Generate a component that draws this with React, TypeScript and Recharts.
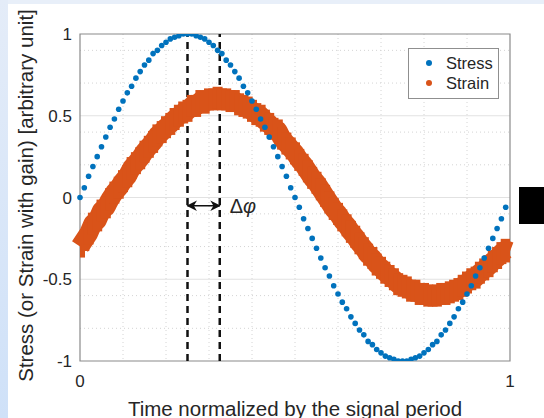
import React from "react";
import {
  ScatterChart,
  Scatter,
  XAxis,
  YAxis,
  CartesianGrid,
  ReferenceLine,
  ReferenceArea,
  Label,
} from "recharts";

// sampling instants (normalized time)
const time = [
  0, 0.01, 0.02, 0.03, 0.04, 0.05, 0.06, 0.07, 0.08, 0.09,
  0.1, 0.11, 0.12, 0.13, 0.14, 0.15, 0.16, 0.17, 0.18, 0.19,
  0.2, 0.21, 0.22, 0.23, 0.24, 0.25, 0.26, 0.27, 0.28, 0.29,
  0.3, 0.31, 0.32, 0.33, 0.34, 0.35, 0.36, 0.37, 0.38, 0.39,
  0.4, 0.41, 0.42, 0.43, 0.44, 0.45, 0.46, 0.47, 0.48, 0.49,
  0.5, 0.51, 0.52, 0.53, 0.54, 0.55, 0.56, 0.57, 0.58, 0.59,
  0.6, 0.61, 0.62, 0.63, 0.64, 0.65, 0.66, 0.67, 0.68, 0.69,
  0.7, 0.71, 0.72, 0.73, 0.74, 0.75, 0.76, 0.77, 0.78, 0.79,
  0.8, 0.81, 0.82, 0.83, 0.84, 0.85, 0.86, 0.87, 0.88, 0.89,
  0.9, 0.91, 0.92, 0.93, 0.94, 0.95, 0.96, 0.97, 0.98, 0.99, 1,
];

// stress (100 samples, last one at t = 0.99)
const stress = [
  0, 0.06, 0.13, 0.19, 0.25, 0.31, 0.37, 0.43, 0.48, 0.54,
  0.59, 0.64, 0.68, 0.73, 0.77, 0.81, 0.84, 0.88, 0.9, 0.93,
  0.95, 0.97, 0.98, 0.99, 1, 1, 1, 0.99, 0.98, 0.97,
  0.95, 0.93, 0.9, 0.88, 0.84, 0.81, 0.77, 0.73, 0.68, 0.64,
  0.59, 0.54, 0.48, 0.43, 0.37, 0.31, 0.25, 0.19, 0.13, 0.06,
  0, -0.06, -0.13, -0.19, -0.25, -0.31, -0.37, -0.43, -0.48, -0.54,
  -0.59, -0.64, -0.68, -0.73, -0.77, -0.81, -0.84, -0.88, -0.9, -0.93,
  -0.95, -0.97, -0.98, -0.99, -1, -1, -1, -0.99, -0.98, -0.97,
  -0.95, -0.93, -0.9, -0.88, -0.84, -0.81, -0.77, -0.73, -0.68, -0.64,
  -0.59, -0.54, -0.48, -0.43, -0.37, -0.31, -0.25, -0.19, -0.13, -0.06,
];

// strain (with gain)
const strain = [
  -0.3, -0.26, -0.22, -0.16, -0.14, -0.08, -0.06, -0.01, 0.03, 0.06,
  0.1, 0.13, 0.18, 0.21, 0.24, 0.28, 0.31, 0.34, 0.38, 0.4,
  0.43, 0.45, 0.48, 0.5, 0.52, 0.53, 0.56, 0.56, 0.59, 0.58,
  0.6, 0.6, 0.61, 0.6, 0.6, 0.59, 0.59, 0.57, 0.56, 0.55,
  0.53, 0.51, 0.5, 0.47, 0.45, 0.42, 0.41, 0.36, 0.33, 0.3,
  0.27, 0.23, 0.2, 0.16, 0.12, 0.09, 0.05, 0.01, -0.03, -0.07,
  -0.1, -0.14, -0.17, -0.21, -0.24, -0.28, -0.31, -0.35, -0.37, -0.41,
  -0.43, -0.46, -0.48, -0.5, -0.53, -0.54, -0.55, -0.57, -0.57, -0.59,
  -0.59, -0.6, -0.6, -0.6, -0.59, -0.59, -0.58, -0.57, -0.56, -0.54,
  -0.52, -0.5, -0.49, -0.46, -0.44, -0.42, -0.39, -0.37, -0.34, -0.32, -0.33,
];

const yTicks = [-1, -0.5, 0, 0.5, 1];
const xTicks = [0, 1];
const majorY = [-0.5, 0, 0.5];
const minorY = [-0.9, -0.8, -0.7, -0.6, -0.4, -0.3, -0.2, -0.1, 0.1, 0.2, 0.3, 0.4, 0.6, 0.7, 0.8, 0.9];
const minorX = [0.1, 0.2, 0.3, 0.4, 0.5, 0.6, 0.7, 0.8, 0.9];

// phase markers
const stressPeak = 0.25;
const strainPeak = 0.325;
const arrowLevel = -0.05;

const stressData = stress.map((v, i) => ({ t: time[i], v }));
const strainData = strain.map((v, i) => ({ t: time[i], v }));

const BLUE = "#0072BD";
const ORANGE = "#D95319";
const FONT = "'Liberation Sans', Arial, sans-serif";

const App: React.FC = () => {
  return (
    <div
      style={{
        position: "absolute",
        left: 0,
        top: 0,
        width: 544,
        height: 418,
        background: "#e8eff9",
        overflow: "hidden",
      }}
    >
      <div
        style={{
          position: "absolute",
          left: 0,
          top: 0,
          width: 8,
          height: 418,
          background: "linear-gradient(#e4ecf8, #cfe1f8)",
        }}
      />
      <div style={{ position: "absolute", left: 8, top: 4, right: 0, bottom: 0, background: "#fff" }} />
      <div style={{ position: "absolute", left: 0, top: 0 }}>
        <ScatterChart
          width={544}
          height={418}
          margin={{ top: 34, right: 34, bottom: 27, left: 20 }}
        >
          <defs>
            <marker id="arrowHead" viewBox="0 0 10 10" refX="9" refY="5" markerWidth="7" markerHeight="7" orient="auto-start-reverse">
              <path d="M0,0 L10,5 L0,10 L3,5 z" fill="#111" />
            </marker>
            <clipPath id="plotClip">
              <rect x={80} y={34} width={430} height={327} />
            </clipPath>
          </defs>
          <CartesianGrid
            horizontalValues={minorY}
            verticalValues={minorX}
            stroke="#d4d4d4"
            strokeDasharray="1 3"
          />
          <CartesianGrid horizontalValues={majorY} vertical={false} stroke="#e2e2e2" />
          <XAxis
            type="number"
            dataKey="t"
            domain={[0, 1]}
            ticks={xTicks}
            height={30}
            tickSize={0}
            tickMargin={14}
            axisLine={false}
            tick={{ fontSize: 17, fill: "#262626", fontFamily: FONT }}
          >
            <Label
              content={({ viewBox }: any) => (
                <text
                  x={viewBox.x + viewBox.width / 2}
                  y={408}
                  textAnchor="middle"
                  dominantBaseline="central"
                  fontSize={20.5}
                  fontFamily={FONT}
                  fill="#262626"
                >
                  Time normalized by the signal period
                </text>
              )}
            />
          </XAxis>
          <YAxis
            type="number"
            dataKey="v"
            domain={[-1, 1]}
            ticks={yTicks}
            width={60}
            tickSize={0}
            tickMargin={8}
            axisLine={false}
            allowDataOverflow
            tick={{ fontSize: 17, fill: "#262626", fontFamily: FONT }}
          >
            <Label
              content={({ viewBox }: any) => {
                const cy = viewBox.y + viewBox.height / 2 - 2;
                return (
                  <text
                    x={25}
                    y={cy}
                    transform={`rotate(-90 25 ${cy})`}
                    textAnchor="middle"
                    dominantBaseline="central"
                    fontSize={20.5}
                    fontFamily={FONT}
                    fill="#262626"
                  >
                    Stress (or Strain with gain) [arbitrary unit]
                  </text>
                );
              }}
            />
          </YAxis>
          <Scatter
            name="Strain"
            data={strainData}
            isAnimationActive={false}
            line={{ stroke: ORANGE, strokeWidth: 19, strokeLinecap: "butt", strokeLinejoin: "round" }}
            shape={(p: any) => (
              <rect
                x={p.cx - 5}
                y={p.cy - 11}
                width={10}
                height={22}
                fill={ORANGE}
                clipPath="url(#plotClip)"
              />
            )}
          />
          <Scatter
            name="Stress"
            data={stressData}
            isAnimationActive={false}
            shape={(p: any) => <circle cx={p.cx} cy={p.cy} r={2.8} fill={BLUE} />}
          />
          <ReferenceLine x={stressPeak} stroke="#111" strokeWidth={2.5} strokeDasharray="7 5" />
          <ReferenceLine x={strainPeak} stroke="#111" strokeWidth={2.5} strokeDasharray="7 5" />
          <ReferenceLine
            segment={[
              { x: stressPeak, y: arrowLevel },
              { x: strainPeak, y: arrowLevel },
            ]}
            stroke="#111"
            strokeWidth={1.5}
            markerStart="url(#arrowHead)"
            markerEnd="url(#arrowHead)"
            label={{
              content: ({ viewBox }: any) => (
                <text
                  x={viewBox.x + viewBox.width + 10}
                  y={viewBox.y}
                  dominantBaseline="central"
                  fontSize={20}
                  fontFamily={FONT}
                  fill="#262626"
                >
                  Δ<tspan fontStyle="italic">φ</tspan>
                </text>
              ),
            }}
          />
          <ReferenceArea x1={0} x2={1} y1={-1} y2={1} fill="none" stroke="#8a8a8a" strokeWidth={1.2} />
        </ScatterChart>
      </div>
      <div
        style={{
          position: "absolute",
          left: 408,
          top: 48,
          width: 89,
          height: 49,
          border: "1px solid #8f8f8f",
          background: "#fff",
          fontFamily: FONT,
          fontSize: 16.5,
          color: "#262626",
        }}
      >
        {[
          { name: "Stress", color: BLUE },
          { name: "Strain", color: ORANGE },
        ].map((e) => (
          <div key={e.name} style={{ display: "flex", alignItems: "center", height: 20, marginTop: e.name === "Stress" ? 4 : 0 }}>
            <span
              style={{
                display: "inline-block",
                width: 6,
                height: 6,
                borderRadius: 3,
                background: e.color,
                marginLeft: 17,
                marginRight: 14,
              }}
            />
            {e.name}
          </div>
        ))}
      </div>
      <div style={{ position: "absolute", left: 519, top: 187, width: 25, height: 37, background: "#000" }} />
    </div>
  );
};

export default App;
